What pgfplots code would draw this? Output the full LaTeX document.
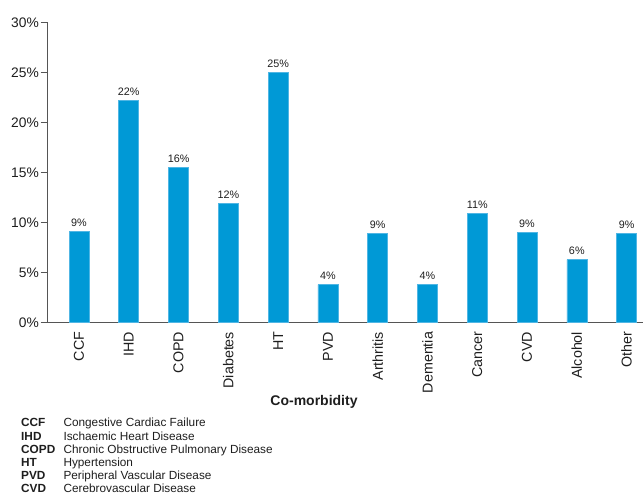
\documentclass[border=0pt]{standalone}
\usepackage{pgfplots}
\usepackage{pgfplotstable}
\pgfplotsset{compat=1.18}
\usepackage{fontspec}
\setmainfont{Liberation Sans}
\definecolor{barblue}{RGB}{0,153,214}
\definecolor{baredge}{RGB}{80,182,228}
\definecolor{txt}{RGB}{30,30,30}
\definecolor{axgray}{RGB}{85,85,85}
\pgfplotstableread{
x y label
0 9.1 9
1 22.2 22
2 15.5 16
3 11.9 12
4 25.0 25
5 3.8 4
6 8.9 9
7 3.8 4
8 10.9 11
9 9.0 9
10 6.3 6
11 8.9 9
}\datatable
\begin{document}
\begin{tikzpicture}
\useasboundingbox (0bp,0bp) rectangle (643bp,495bp);
\begin{axis}[
  at={(47.5bp,172.3bp)}, anchor=south west,
  scale only axis, width=595.5bp, height=300bp,
  xmin=-0.633, xmax=11.33, ymin=0, ymax=30,
  axis x line*=bottom, axis y line*=left,
  axis line style={axgray, line width=1.3bp},
  ybar, bar width=20bp,
  ytick={0,5,...,30},
  yticklabels={0\%,5\%,10\%,15\%,20\%,25\%,30\%},
  ytick pos=left, tick align=outside,
  major tick length=7bp,
  ytick style={axgray, line width=1.3bp},
  yticklabel style={font=\fontsize{13.8bp}{15bp}\selectfont, text=txt, inner sep=1.5bp},
  xtick=data,
  xticklabels={CCF,IHD,COPD,Diabetes,HT,PVD,Arthritis,Dementia,Cancer,CVD,Alcohol,Other},
  xtick style={draw=none},
  xticklabel style={yshift=-2bp, rotate=90, anchor=east, inner sep=0pt, font=\fontsize{14.3bp}{16bp}\selectfont, text=txt},
  xlabel={Co-morbidity},
  xlabel style={at={(axis description cs:0.4475,0)}, anchor=base, yshift=-82.3bp, font=\fontsize{14bp}{16bp}\selectfont\bfseries, text=txt},
  point meta=explicit symbolic,
  nodes near coords={\pgfplotspointmeta\%},
  every node near coord/.append style={anchor=base, inner sep=0pt, yshift=5.6bp, font=\fontsize{10.8bp}{12bp}\selectfont, text=txt},
  clip=false,
]
\addplot[fill=barblue, draw=baredge, line width=0.6bp] table[x=x, y=y, meta=label] {\datatable};
\end{axis}
\begin{scope}[every node/.style={anchor=base west, inner sep=0pt, text=txt, font=\fontsize{11.8bp}{13bp}\selectfont}]
\node at (21bp,68bp)   {\bfseries CCF};
\node at (63.3bp,68bp) {Congestive Cardiac Failure};
\node at (21bp,54.8bp)   {\bfseries IHD};
\node at (63.3bp,54.8bp) {Ischaemic Heart Disease};
\node at (21bp,41.6bp)   {\bfseries COPD};
\node at (63.3bp,41.6bp) {Chronic Obstructive Pulmonary Disease};
\node at (21bp,28.4bp)   {\bfseries HT};
\node at (63.3bp,28.4bp) {Hypertension};
\node at (21bp,15.2bp)   {\bfseries PVD};
\node at (63.3bp,15.2bp) {Peripheral Vascular Disease};
\node at (21bp,2.2bp)   {\bfseries CVD};
\node at (63.3bp,2.2bp) {Cerebrovascular Disease};
\end{scope}
\end{tikzpicture}
\end{document}
